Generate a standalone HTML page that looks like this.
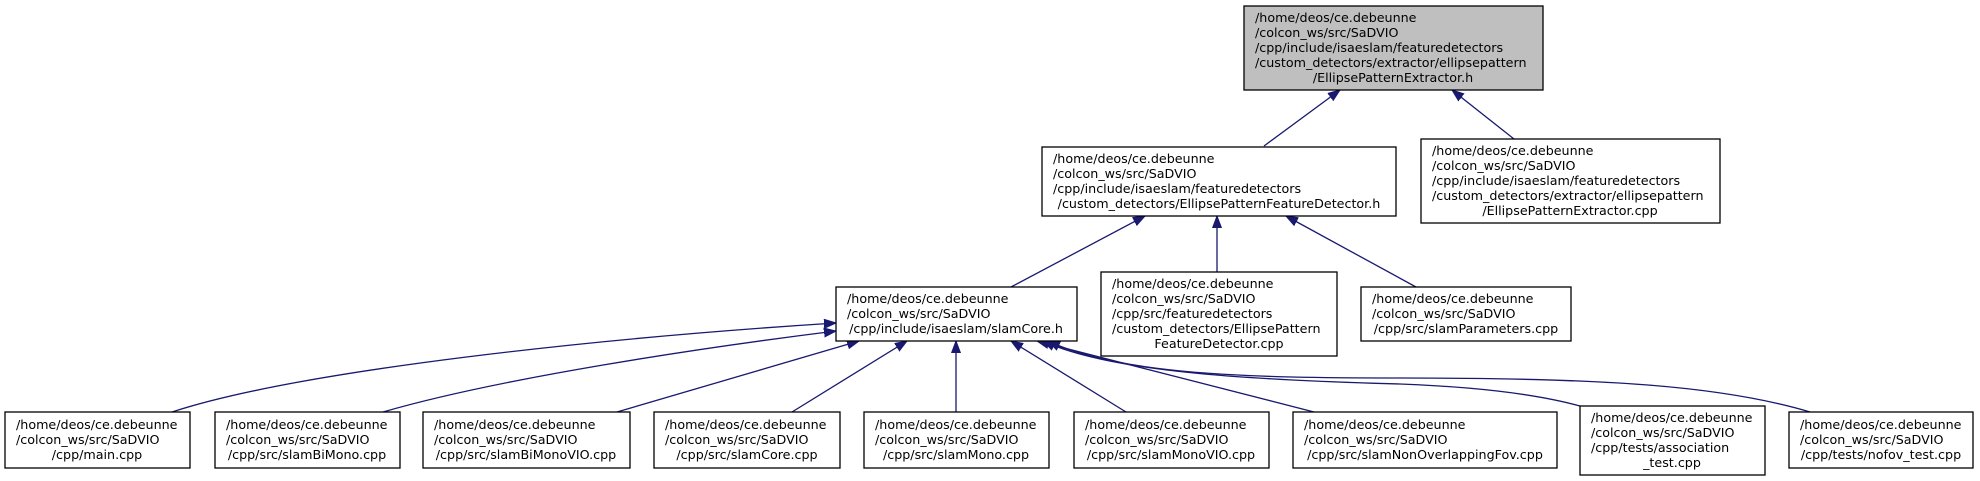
<!DOCTYPE html>
<html><head><meta charset="utf-8"><style>
html,body{margin:0;padding:0;background:#fff;}
svg{display:block;}
text{font-family:"DejaVu Sans","Liberation Sans",sans-serif;font-size:12.7px;fill:#000;}
rect{stroke:#000;stroke-width:1.3;fill:#fff;}
path.e{fill:none;stroke:#191970;stroke-width:1.3;}
</style></head><body>
<svg width="1980" height="481" viewBox="0 0 1980 481" xmlns="http://www.w3.org/2000/svg">
<defs>
<marker id="a" markerUnits="userSpaceOnUse" markerWidth="14" markerHeight="10" refX="12" refY="5" orient="auto">
<path d="M0,0.5 L12,5 L0,9.5 Z" fill="#191970" stroke="#191970" stroke-width="1"/>
</marker>
</defs>

<!-- edges -->
<path class="e" marker-end="url(#a)" d="M1264,146 L1340,90"/>
<path class="e" marker-end="url(#a)" d="M1514,139 L1452,90"/>
<path class="e" marker-end="url(#a)" d="M1011,287 L1145,216"/>
<path class="e" marker-end="url(#a)" d="M1217,273 L1217,216"/>
<path class="e" marker-end="url(#a)" d="M1416,287 L1286,216"/>

<path class="e" marker-end="url(#a)" d="M172,412 C300,370 600,338 836,323"/>
<path class="e" marker-end="url(#a)" d="M383,412 C500,378 700,348 836,331"/>
<path class="e" marker-end="url(#a)" d="M617,412 L859,341"/>
<path class="e" marker-end="url(#a)" d="M792,412 L907,341"/>
<path class="e" marker-end="url(#a)" d="M956,412 L956,341"/>
<path class="e" marker-end="url(#a)" d="M1126,412 L1011,341"/>
<path class="e" marker-end="url(#a)" d="M1314,412 L1037,341"/>
<path class="e" marker-end="url(#a)" d="M1580,406 C1540,395 1480,387 1400,384 C1250,380 1110,372 1043,341"/>
<path class="e" marker-end="url(#a)" d="M1810,412 C1720,385 1600,378 1400,378 C1250,378 1120,375 1048,341"/>

<!-- top -->
<rect x="1244" y="6" width="299" height="84" style="fill:#bfbfbf"/>
<text x="1255" y="22">/home/deos/ce.debeunne</text>
<text x="1255" y="37">/colcon_ws/src/SaDVIO</text>
<text x="1255" y="52">/cpp/include/isaeslam/featuredetectors</text>
<text x="1255" y="67">/custom_detectors/extractor/ellipsepattern</text>
<text x="1393" y="82" text-anchor="middle">/EllipsePatternExtractor.h</text>

<!-- middle -->
<rect x="1042" y="147" width="354" height="69"/>
<text x="1053" y="163">/home/deos/ce.debeunne</text>
<text x="1053" y="178">/colcon_ws/src/SaDVIO</text>
<text x="1053" y="193">/cpp/include/isaeslam/featuredetectors</text>
<text x="1219" y="208" text-anchor="middle">/custom_detectors/EllipsePatternFeatureDetector.h</text>

<!-- extractor cpp -->
<rect x="1421" y="139" width="299" height="84"/>
<text x="1432" y="155">/home/deos/ce.debeunne</text>
<text x="1432" y="170">/colcon_ws/src/SaDVIO</text>
<text x="1432" y="185">/cpp/include/isaeslam/featuredetectors</text>
<text x="1432" y="200">/custom_detectors/extractor/ellipsepattern</text>
<text x="1570" y="215" text-anchor="middle">/EllipsePatternExtractor.cpp</text>

<!-- slamCore.h -->
<rect x="836" y="287" width="241" height="54"/>
<text x="847" y="303">/home/deos/ce.debeunne</text>
<text x="847" y="318">/colcon_ws/src/SaDVIO</text>
<text x="956" y="333" text-anchor="middle">/cpp/include/isaeslam/slamCore.h</text>

<!-- FD cpp -->
<rect x="1101" y="272" width="236" height="84"/>
<text x="1112" y="288">/home/deos/ce.debeunne</text>
<text x="1112" y="303">/colcon_ws/src/SaDVIO</text>
<text x="1112" y="318">/cpp/src/featuredetectors</text>
<text x="1112" y="333">/custom_detectors/EllipsePattern</text>
<text x="1219" y="348" text-anchor="middle">FeatureDetector.cpp</text>

<!-- slamParameters -->
<rect x="1361" y="287" width="210" height="54"/>
<text x="1372" y="303">/home/deos/ce.debeunne</text>
<text x="1372" y="318">/colcon_ws/src/SaDVIO</text>
<text x="1466" y="333" text-anchor="middle">/cpp/src/slamParameters.cpp</text>

<!-- bottom row -->
<rect x="5" y="412" width="185" height="56"/>
<text x="16" y="429">/home/deos/ce.debeunne</text>
<text x="16" y="444">/colcon_ws/src/SaDVIO</text>
<text x="97" y="459" text-anchor="middle">/cpp/main.cpp</text>

<rect x="215" y="412" width="185" height="56"/>
<text x="226" y="429">/home/deos/ce.debeunne</text>
<text x="226" y="444">/colcon_ws/src/SaDVIO</text>
<text x="307" y="459" text-anchor="middle">/cpp/src/slamBiMono.cpp</text>

<rect x="423" y="412" width="207" height="56"/>
<text x="434" y="429">/home/deos/ce.debeunne</text>
<text x="434" y="444">/colcon_ws/src/SaDVIO</text>
<text x="526" y="459" text-anchor="middle">/cpp/src/slamBiMonoVIO.cpp</text>

<rect x="654" y="412" width="186" height="56"/>
<text x="665" y="429">/home/deos/ce.debeunne</text>
<text x="665" y="444">/colcon_ws/src/SaDVIO</text>
<text x="747" y="459" text-anchor="middle">/cpp/src/slamCore.cpp</text>

<rect x="864" y="412" width="185" height="56"/>
<text x="875" y="429">/home/deos/ce.debeunne</text>
<text x="875" y="444">/colcon_ws/src/SaDVIO</text>
<text x="956" y="459" text-anchor="middle">/cpp/src/slamMono.cpp</text>

<rect x="1074" y="412" width="195" height="56"/>
<text x="1085" y="429">/home/deos/ce.debeunne</text>
<text x="1085" y="444">/colcon_ws/src/SaDVIO</text>
<text x="1171" y="459" text-anchor="middle">/cpp/src/slamMonoVIO.cpp</text>

<rect x="1293" y="412" width="264" height="56"/>
<text x="1304" y="429">/home/deos/ce.debeunne</text>
<text x="1304" y="444">/colcon_ws/src/SaDVIO</text>
<text x="1425" y="459" text-anchor="middle">/cpp/src/slamNonOverlappingFov.cpp</text>

<rect x="1580" y="406" width="185" height="69"/>
<text x="1591" y="422">/home/deos/ce.debeunne</text>
<text x="1591" y="437">/colcon_ws/src/SaDVIO</text>
<text x="1591" y="452">/cpp/tests/association</text>
<text x="1672" y="467" text-anchor="middle">_test.cpp</text>

<rect x="1789" y="412" width="184" height="56"/>
<text x="1800" y="429">/home/deos/ce.debeunne</text>
<text x="1800" y="444">/colcon_ws/src/SaDVIO</text>
<text x="1881" y="459" text-anchor="middle">/cpp/tests/nofov_test.cpp</text>
</svg>
</body></html>
